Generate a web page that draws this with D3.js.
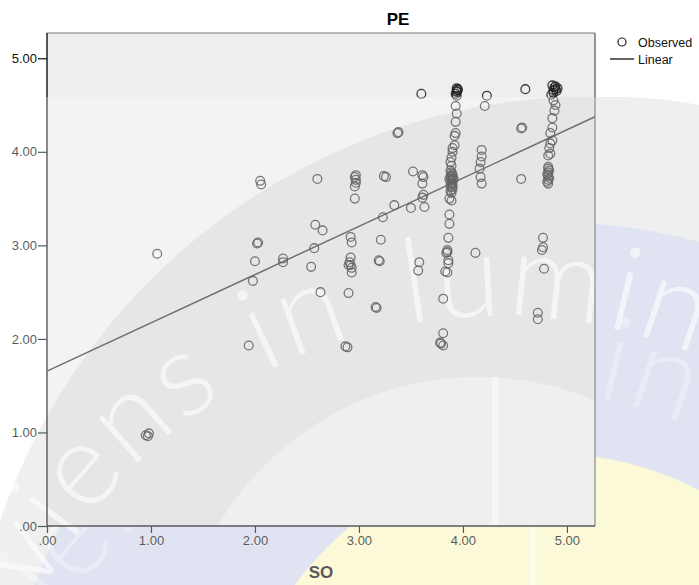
<!DOCTYPE html>
<html>
<head>
<meta charset="utf-8">
<script src="https://cdn.jsdelivr.net/npm/d3@7"></script>
<style>
  html, body { margin: 0; padding: 0; background: #fff; }
  svg { display: block; font-family: "Liberation Sans", Arial, sans-serif; }
</style>
</head>
<body>
<svg id="chart" width="699" height="585"></svg>
<script>
// Observed cases: SO (x) paired with PE (y)
const soValues = [
  0.95, 0.98, 0.97, 1.06,
  1.94, 1.98, 2.00, 2.02, 2.03, 2.05, 2.06,
  2.27, 2.27, 2.54, 2.57, 2.58, 2.65, 2.63, 2.60,
  2.87, 2.89, 2.90, 2.92, 2.93, 2.92, 2.91, 2.92, 2.93, 2.93, 2.90,
  2.96, 2.96, 2.97, 2.97, 2.96, 2.97,
  3.16, 3.17, 3.19, 3.20, 3.21, 3.23, 3.24, 3.26, 3.34, 3.37, 3.38,
  3.52, 3.50, 3.61, 3.62, 3.61, 3.62, 3.61, 3.63, 3.58, 3.57, 3.60,
  3.94, 3.95, 3.94, 3.93, 3.94, 3.95, 3.94,
  3.93, 3.94, 3.93, 3.93, 3.92, 3.92,
  3.90, 3.90, 3.89, 3.88, 3.89, 3.88,
  3.89, 3.90, 3.88, 3.89, 3.90, 3.88, 3.89, 3.90, 3.88, 3.89, 3.90, 3.88, 3.89, 3.90, 3.91, 3.87, 3.90,
  3.87, 3.89, 3.87, 3.87, 3.86, 3.85, 3.85, 3.84, 3.86, 3.86, 3.83, 3.85, 3.81, 3.81, 3.78, 3.81, 3.79,
  4.18, 4.18, 4.17, 4.16, 4.17, 4.18, 4.23, 4.21, 4.12,
  4.60, 4.56, 4.57, 4.56,
  4.86, 4.88, 4.89, 4.90, 4.87, 4.85, 4.91, 4.89, 4.87,
  4.87, 4.89, 4.88,
  4.86, 4.86, 4.84, 4.86, 4.84, 4.83, 4.84, 4.82,
  4.82, 4.82, 4.83, 4.82, 4.81, 4.82, 4.83, 4.82, 4.81, 4.82,
  4.77, 4.77, 4.76, 4.78, 4.72, 4.72
];
const peValues = [
  0.97, 0.99, 0.96, 2.91,
  1.93, 2.62, 2.83, 3.02, 3.03, 3.69, 3.65,
  2.86, 2.82, 2.77, 2.97, 3.22, 3.16, 2.50, 3.71,
  1.92, 1.91, 2.49, 3.09, 3.03, 2.87, 2.82, 2.79, 2.76, 2.71, 2.79,
  3.50, 3.73, 3.70, 3.67, 3.63, 3.75,
  2.34, 2.33, 2.84, 2.83, 3.06, 3.30, 3.74, 3.73, 3.43, 4.20, 4.21,
  3.79, 3.40, 3.75, 3.73, 3.66, 3.54, 3.51, 3.41, 2.82, 2.73, 4.62,
  4.68, 4.66, 4.64, 4.62, 4.60, 4.67, 4.65,
  4.49, 4.41, 4.32, 4.20, 4.17, 4.07,
  4.04, 4.00, 3.94, 3.89, 3.85, 3.80,
  3.78, 3.76, 3.74, 3.72, 3.70, 3.69, 3.67, 3.66, 3.64, 3.62, 3.60, 3.58, 3.56, 3.74, 3.71, 3.71, 3.63,
  3.50, 3.48, 3.33, 3.23, 3.08, 2.95, 2.93, 2.92, 2.84, 2.81, 2.72, 2.71, 2.43, 2.06, 1.96, 1.93, 1.95,
  4.02, 3.95, 3.89, 3.82, 3.73, 3.66, 4.60, 4.49, 2.92,
  4.67, 4.25, 4.26, 3.71,
  4.71, 4.69, 4.67, 4.65, 4.63, 4.61, 4.68, 4.70, 4.66,
  4.55, 4.50, 4.44,
  4.36, 4.26, 4.20, 4.12, 4.09, 4.04, 3.98, 3.96,
  3.84, 3.82, 3.80, 3.78, 3.76, 3.74, 3.72, 3.70, 3.68, 3.66,
  3.08, 2.98, 2.95, 2.75, 2.28, 2.21
];

// Linear fit of PE on SO
const fitIntercept = 1.655;
const fitSlope = 0.516;

const xTicks = [0, 1, 2, 3, 4, 5];
const yTicks = [0, 1, 2, 3, 4, 5];
const chartTitle = "PE";
const xTitle = "SO";
const legendItems = ["Observed", "Linear"];

const W = 699, H = 585;
const plot = { left: 47, top: 33, right: 595, bottom: 526 };
const domainMax = 5.27;

const svg = d3.select("#chart");
const defs = svg.append("defs");

const x = d3.scaleLinear().domain([0, domainMax]).range([plot.left, plot.right]);
const y = d3.scaleLinear().domain([0, domainMax]).range([plot.bottom, plot.top]);
const fmt = v => d3.format(".2f")(v).replace(/^0\./, ".");

// ---- page seal (background emblem) ----
const seal = svg.append("g");
seal.append("circle").attr("cx", 595).attr("cy", 725).attr("r", 629).attr("fill", "#e8e8e8");
seal.append("circle").attr("cx", 552).attr("cy", 772).attr("r", 550).attr("fill", "#d3d9ec");
seal.append("circle").attr("cx", 552).attr("cy", 772).attr("r", 318).attr("fill", "#faf7c8");
seal.append("line").attr("x1", 533).attr("y1", plot.bottom).attr("x2", 533).attr("y2", H)
  .attr("stroke", "#fff").attr("stroke-width", 6).attr("opacity", 0.5);
seal.append("rect").attr("x", 0).attr("y", 0).attr("width", W).attr("height", 97).attr("fill", "#fff");

// ---- plot panel ----
defs.append("clipPath").attr("id", "panelClip")
  .append("rect")
  .attr("x", plot.left).attr("y", plot.top)
  .attr("width", plot.right - plot.left).attr("height", plot.bottom - plot.top);

// mask that hides the panel area (for the outer echo of the motto)
const outside = defs.append("mask").attr("id", "outsidePanel");
outside.append("rect").attr("x", 0).attr("y", 0).attr("width", W).attr("height", H).attr("fill", "#fff");
outside.append("rect")
  .attr("x", plot.left).attr("y", plot.top)
  .attr("width", plot.right - plot.left).attr("height", plot.bottom - plot.top)
  .attr("fill", "#000");

const panel = svg.append("g").attr("clip-path", "url(#panelClip)");
panel.append("rect")
  .attr("x", plot.left).attr("y", plot.top)
  .attr("width", plot.right - plot.left).attr("height", plot.bottom - plot.top)
  .attr("fill", "#eeeeee");
const panelSeal = panel.append("g");
panelSeal.append("circle").attr("cx", 595).attr("cy", 725).attr("r", 629).attr("fill", "#dcdcdc");
panelSeal.append("circle").attr("cx", 478).attr("cy", 679).attr("r", 302).attr("fill", "#e9e9e9");
panelSeal.append("line").attr("x1", 495).attr("y1", 377).attr("x2", 495).attr("y2", plot.bottom)
  .attr("stroke", "#fff").attr("stroke-width", 6).attr("opacity", 0.45);
panel.append("rect")
  .attr("x", plot.left).attr("y", plot.top)
  .attr("width", plot.right - plot.left).attr("height", 97 - plot.top)
  .attr("fill", "#eeeeee");

// ---- motto around the seal ----
const mc = { cx: 499, cy: 833, r: 517 };
defs.append("path")
  .attr("id", "mottoArc")
  .attr("d", `M ${mc.cx - mc.r} ${mc.cy} A ${mc.r} ${mc.r} 0 0 1 ${mc.cx + mc.r} ${mc.cy}`);
const mottoParts = [
  { text: "Serviens", offset: 526, anchor: "end" },
  { text: "in", offset: 618, anchor: "middle" },
  { text: "lumine veritatis", offset: 720, anchor: "start" }
];
function drawMotto(dx, dy, opacity) {
  const g = svg.append("g")
    .attr("transform", `translate(${dx},${dy})`)
    .attr("fill", "#fff").attr("opacity", opacity)
    .style("font-family", "Lato, 'Open Sans', sans-serif")
    .style("font-weight", 300)
    .style("font-size", "118px")
    .style("letter-spacing", "4px");
  mottoParts.forEach(p => {
    g.append("text").append("textPath")
      .attr("href", "#mottoArc")
      .attr("startOffset", p.offset)
      .attr("text-anchor", p.anchor)
      .text(p.text);
  });
  return g;
}
// faint echo of the motto, only in the page margins
const echo = svg.append("g").attr("mask", "url(#outsidePanel)");
echo.node().appendChild(drawMotto(-10, 70, 0.3).node());
drawMotto(0, 0, 0.6);
// keep the header band clean
svg.append("rect").attr("x", plot.right + 1).attr("y", 0).attr("width", W - plot.right).attr("height", 97).attr("fill", "#fff");

// ---- frame ----
svg.append("line").attr("x1", plot.left).attr("y1", plot.top).attr("x2", plot.right).attr("y2", plot.top)
  .attr("stroke", "#7a7a7a").attr("stroke-width", 1.2);
svg.append("line").attr("x1", plot.right).attr("y1", plot.top).attr("x2", plot.right).attr("y2", plot.bottom)
  .attr("stroke", "#555").attr("stroke-width", 1.2);

// ---- axes ----
const xAxis = svg.append("g")
  .attr("transform", `translate(0,${plot.bottom})`)
  .call(d3.axisBottom(x).tickValues(xTicks).tickFormat(fmt).tickSize(7).tickPadding(3));
const yAxis = svg.append("g")
  .attr("transform", `translate(${plot.left},0)`)
  .call(d3.axisLeft(y).tickValues(yTicks).tickFormat(fmt).tickSize(9).tickPadding(1));
[xAxis, yAxis].forEach(a => {
  a.select(".domain").attr("stroke", "#111").attr("stroke-width", 1.4);
  a.selectAll(".tick line").attr("stroke", "#111").attr("stroke-width", 1.2);
  a.selectAll(".tick text")
    .attr("fill", "#111")
    .style("font-family", "'Liberation Sans', Arial, sans-serif")
    .style("font-size", "13px");
});
xAxis.select(".domain").attr("d", `M${plot.left},0H${plot.right}`);
yAxis.select(".domain").attr("d", `M0,${plot.bottom}V${plot.top}`);

// ---- fit line ----
const fitX = [0, domainMax];
svg.append("line")
  .attr("x1", x(fitX[0])).attr("y1", y(fitIntercept + fitSlope * fitX[0]))
  .attr("x2", x(fitX[1])).attr("y2", y(fitIntercept + fitSlope * fitX[1]))
  .attr("stroke", "#333").attr("stroke-width", 1.5);

// ---- observed points ----
svg.append("g")
  .selectAll("circle")
  .data(d3.zip(soValues, peValues))
  .join("circle")
  .attr("cx", d => x(d[0]))
  .attr("cy", d => y(d[1]))
  .attr("r", 4.4)
  .attr("fill", "none")
  .attr("stroke", "#1e1e1e")
  .attr("stroke-opacity", 0.85)
  .attr("stroke-width", 1.3);

// ---- titles ----
svg.append("text")
  .attr("x", 398).attr("y", 25)
  .attr("text-anchor", "middle")
  .style("font-weight", "bold").style("font-size", "17px")
  .attr("fill", "#000")
  .text(chartTitle);
svg.append("text")
  .attr("x", (plot.left + plot.right) / 2).attr("y", 578)
  .attr("text-anchor", "middle")
  .style("font-weight", "bold").style("font-size", "17px")
  .attr("fill", "#111")
  .text(xTitle);

// ---- legend ----
const legend = svg.append("g").style("font-size", "12.5px").attr("fill", "#111");
legend.append("circle").attr("cx", 622).attr("cy", 42).attr("r", 4)
  .attr("fill", "none").attr("stroke", "#222").attr("stroke-width", 1.2);
legend.append("text").attr("x", 638).attr("y", 47).text(legendItems[0]);
legend.append("line").attr("x1", 610).attr("x2", 634).attr("y1", 59).attr("y2", 59)
  .attr("stroke", "#222").attr("stroke-width", 1.4);
legend.append("text").attr("x", 638).attr("y", 63.5).text(legendItems[1]);

// ---- light haze of the page below the header band ----
svg.append("rect")
  .attr("x", 0).attr("y", 97).attr("width", W).attr("height", H - 97)
  .attr("fill", "#fff").attr("opacity", 0.3);
</script>
</body>
</html>
